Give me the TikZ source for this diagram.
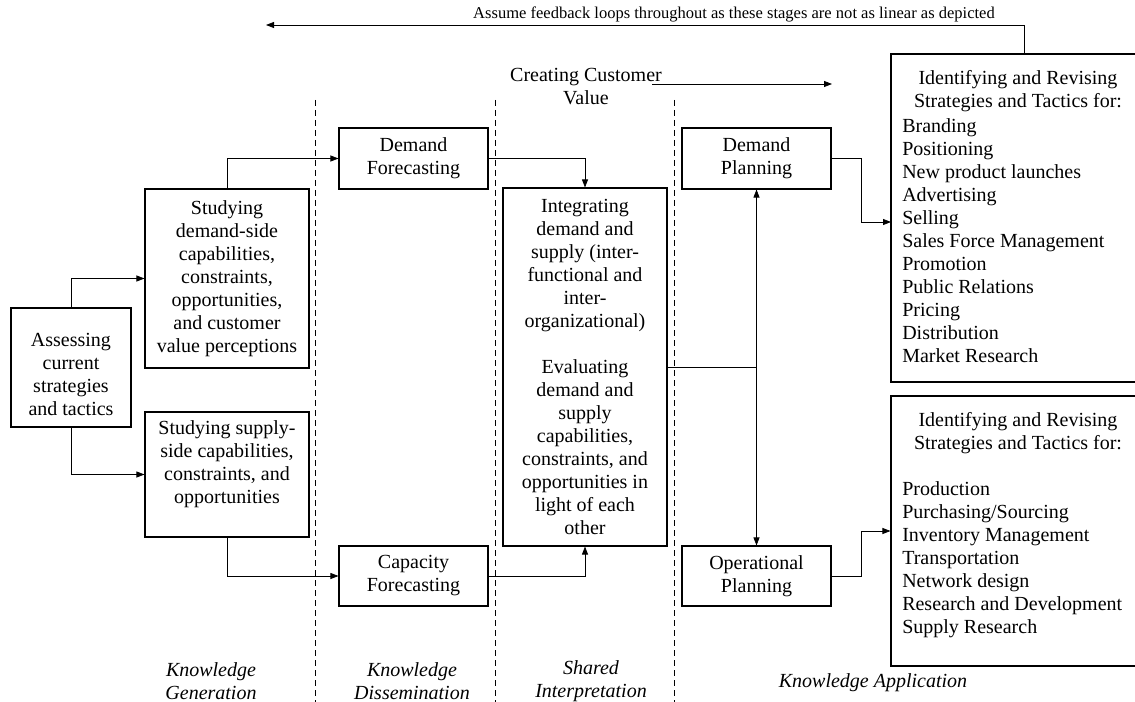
\documentclass[tikz,border=0pt]{standalone}
\usepackage{fontspec}
\setmainfont{Liberation Serif}
\usetikzlibrary{arrows.meta,calc}
\newcommand\mainf{\fontsize{15}{17.25}\selectfont}
\newcommand\smallf{\fontsize{12.4}{14}\selectfont}
\begin{document}
\begin{tikzpicture}[x=0.75pt,y=-0.75pt,
  box/.style={draw,line width=0.8pt,inner sep=0pt,align=center,font=\mainf},
  txt/.style={inner sep=0pt,align=center,font=\mainf},
  lst/.style={inner sep=0pt,align=left,font=\mainf,anchor=west},
  lab/.style={inner sep=0pt,align=center,font=\mainf\itshape},
  conn/.style={line width=0.6pt},
  arr/.style={conn,-{Triangle[length=6pt,width=4.5pt]}},
  arrboth/.style={conn,{Triangle[length=6pt,width=4.5pt]}-{Triangle[length=6pt,width=4.5pt]}},
  dline/.style={line width=0.6pt,dash pattern=on 4.5pt off 3pt}]
\useasboundingbox (0,0) rectangle (1135,702);
\clip (0,0) rectangle (1135,702);

% dashed separators
\draw[dline] (315,100) -- (315,702);
\draw[dline] (495,100) -- (495,702);
\draw[dline] (674,100) -- (674,702);

% boxes
\node[box,minimum width=90pt,minimum height=89.25pt] (assess) at (71,367.5) {};
\node[txt] (assesst) at (71,374.5) {Assessing\\current\\strategies\\and tactics};
\node[box,minimum width=123pt,minimum height=134.25pt] (sdem) at (227,278.5) {Studying\\demand-side\\capabilities,\\constraints,\\opportunities,\\and customer\\value perceptions};
\node[box,minimum width=123pt,minimum height=93.75pt] (ssup) at (227,474.5) {};
\node[txt] (ssupt) at (227,464.5) {Studying supply-\\side capabilities,\\constraints, and\\opportunities};
\node[box,minimum width=111.75pt,minimum height=45.75pt] (dfc) at (413.5,158.5) {Demand\\Forecasting};
\node[box,minimum width=111.75pt,minimum height=45pt] (cfc) at (413.5,576) {Capacity\\Forecasting};
\node[box,minimum width=123pt,minimum height=268.5pt] (integ) at (585,367) {Integrating\\demand and\\supply (inter-\\functional and\\inter-\\organizational)\\[17.25pt]Evaluating\\demand and\\supply\\capabilities,\\constraints, and\\opportunities in\\light of each\\other};
\node[box,minimum width=111.75pt,minimum height=45.75pt] (dplan) at (756.5,158.5) {Demand\\Planning};
\node[box,minimum width=111.75pt,minimum height=45pt] (oplan) at (756.5,576) {Operational\\Planning};
\node[box,minimum width=190.5pt,minimum height=246pt] (rb1) at (1018,218) {};
\node[box,minimum width=190.5pt,minimum height=202.5pt] (rb2) at (1018,531) {};

% right box texts
\node[txt] (rb1t) at (1018,91.5) {Identifying and Revising\\Strategies and Tactics for:};
\node[lst] (rb1l) at (902,241) {Branding\\Positioning\\New product launches\\Advertising\\Selling\\Sales Force Management\\Promotion\\Public Relations\\Pricing\\Distribution\\Market Research};
\node[txt] (rb2t) at (1018,433.5) {Identifying and Revising\\Strategies and Tactics for:};
\node[lst] (rb2l) at (902,560) {Production\\Purchasing/Sourcing\\Inventory Management\\Transportation\\Network design\\Research and Development\\Supply Research};

% top texts
\node[inner sep=0pt,font=\smallf] (fbt) at (734,14) {Assume feedback loops throughout as these stages are not as linear as depicted};
\node[txt] (ccv) at (586,86.5) {Creating Customer\\Value};

% stage labels
\node[lab] (kg) at (211,681) {Knowledge\\Generation};
\node[lab] (kd) at (412,681) {Knowledge\\Dissemination};
\node[lab] (si) at (591,681) {Shared\\Interpretation};
\node[lab] (ka) at (873,683) {Knowledge Application};

% coordinates
\coordinate (fbs) at (1024,54);
\coordinate (fbe) at (266,25);
\coordinate (ccs) at (652,84);
\coordinate (cce) at (832,84);
\coordinate (r1in) at (891,222);

% connectors
\draw[arr] (fbs) |- (fbe);
\draw[arr] (ccs) -- (cce);
\draw[arr] (assess.north) |- (sdem.west);
\draw[arr] (assess.south) |- (ssup.west);
\draw[arr] (sdem.north) |- (dfc.west);
\draw[arr] (ssup.south) |- (cfc.west);
\draw[arr] (dfc.east) -| (integ.north);
\draw[arr] (cfc.east) -| (integ.south);
\draw[conn] (integ.east) -- (integ.east -| dplan.south);
\draw[arrboth] (dplan.south) -- (oplan.north);
\draw[arr] (dplan.east) -- ++(30,0) |- (r1in);
\draw[arr] (oplan.east) -- ++(30,0) |- (rb2.west);
\end{tikzpicture}
\end{document}
